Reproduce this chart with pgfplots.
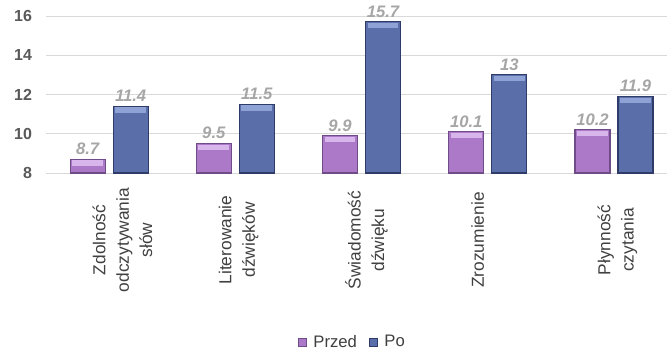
\documentclass[border=0pt]{standalone}
\usepackage{pgfplots}
\pgfplotsset{compat=1.18}
\usepackage{fontspec}
\setmainfont{Liberation Sans}

\definecolor{przedfill}{HTML}{AC79C9}
\definecolor{przedtop}{HTML}{D8B5EA}
\definecolor{przededge}{HTML}{6F4C88}
\definecolor{pofill}{HTML}{5A6EA9}
\definecolor{potop}{HTML}{8EA2D6}
\definecolor{poedge}{HTML}{2F3B68}
\definecolor{gridgray}{HTML}{D9D9D9}
\definecolor{ticktext}{HTML}{595959}
\definecolor{cattext}{HTML}{404040}
\definecolor{valtext}{HTML}{A6A6A6}

\begin{document}
\begin{tikzpicture}
\begin{axis}[
  name=ax,
  scale only axis,
  width=465.75pt, height=117.75pt,
  ybar=6pt, bar width=26.25pt,
  xmin=-0.5, xmax=4.42,
  ymin=8, ymax=16,
  ytick={8,10,12,14,16},
  xtick={0,1,2,3,4},
  xticklabels={{Zdolność\\odczytywania\\słów},{Literowanie\\dźwięków},{Świadomość\\dźwięku},{Zrozumienie},{Płynność\\czytania}},
  ymajorgrids,
  major grid style={gridgray, line width=0.75pt},
  axis line style={draw=none},
  major tick length=0pt,
  /pgf/number format/assume math mode=true,
  yticklabel style={font=\bfseries\fontsize{12}{14}\selectfont, text=ticktext, xshift=-7pt},
  xticklabel style={xshift=-12.5pt, yshift=-50.25pt, rotate=90, anchor=north, align=center, inner sep=0pt, font=\fontsize{13}{17.5}\selectfont, text=cattext},
  nodes near coords,
  nodes near coords style={font=\bfseries\itshape\fontsize{12.5}{14}\selectfont, text=valtext, inner sep=3pt},
  legend columns=2,
  legend style={at={(0.494,0)}, anchor=center, yshift=-126.75pt, draw=none, fill=none,
    font=\fontsize{12.5}{14}\selectfont, text=cattext,
    /tikz/every even column/.append style={column sep=7pt}},
  legend image code/.code={\draw[#1, line width=0.4pt] (0pt,-3pt) rectangle (6pt,3pt); \path (9pt,0pt);},
]
\addplot[fill=przedfill, draw=przededge, line width=0.8pt,
  every node near coord/.append style={label={[fill=przedtop, minimum width=23pt, minimum height=4pt, inner sep=0pt, yshift=-0.4pt]below:{}}}]
  coordinates {(0,8.7) (1,9.5) (2,9.9) (3,10.1) (4,10.2)};
\addplot[fill=pofill, draw=poedge, line width=0.8pt,
  every node near coord/.append style={label={[fill=potop, minimum width=23pt, minimum height=4pt, inner sep=0pt, yshift=-0.4pt]below:{}}}]
  coordinates {(0,11.4) (1,11.5) (2,15.7) (3,13) (4,11.9)};
\legend{Przed, Po}
\end{axis}
\pgfresetboundingbox
\useasboundingbox ([xshift=-34.5pt,yshift=-132.75pt]ax.south west) rectangle ([yshift=12pt]ax.north east);
\end{tikzpicture}
\end{document}
